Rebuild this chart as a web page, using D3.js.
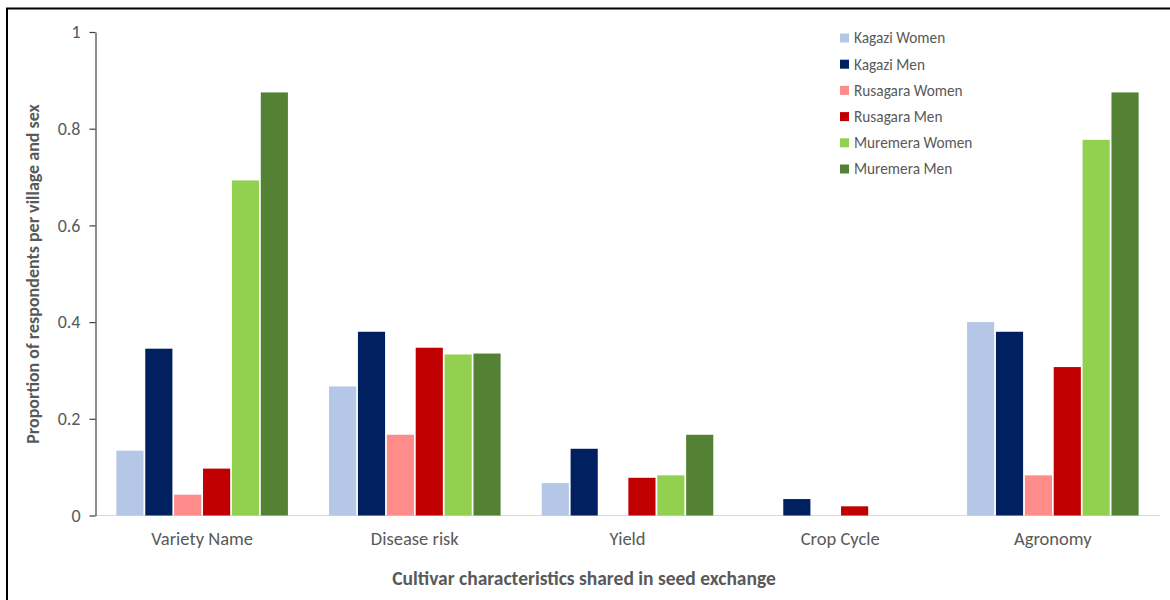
<!DOCTYPE html>
<html>
<head>
<meta charset="utf-8">
<script src="https://cdn.jsdelivr.net/npm/d3@7"></script>
<style>
  html, body { margin: 0; padding: 0; background: #fff; }
  svg { display: block; font-family: Carlito, Calibri, Lato, sans-serif; }
</style>
</head>
<body>
<svg id="chart" width="1170" height="600"></svg>
<script>
const categories = ["Variety Name", "Disease risk", "Yield", "Crop Cycle", "Agronomy"];
const seriesNames = ["Kagazi Women", "Kagazi Men", "Rusagara Women", "Rusagara Men", "Muremera Women", "Muremera Men"];
const kagaziWomen   = [0.134, 0.267, 0.067, 0,     0.400];
const kagaziMen     = [0.345, 0.380, 0.138, 0.034, 0.380];
const rusagaraWomen = [0.043, 0.167, 0,     0,     0.083];
const rusagaraMen   = [0.097, 0.347, 0.078, 0.019, 0.307];
const muremeraWomen = [0.693, 0.333, 0.083, 0,     0.777];
const muremeraMen   = [0.875, 0.335, 0.167, 0,     0.875];
const yTicks = [0, 0.2, 0.4, 0.6, 0.8, 1];
const colors = ["#B4C7E7", "#002060", "#FF8B8B", "#C00000", "#92D050", "#548235"];

const seriesValues = [kagaziWomen, kagaziMen, rusagaraWomen, rusagaraMen, muremeraWomen, muremeraMen];
const FONT = "Carlito, Calibri, Lato, sans-serif";

const svg = d3.select("#chart");

// frame (top and left edges)
svg.append("path")
  .attr("d", "M7,600 V8.5 H1170")
  .attr("fill", "none")
  .attr("stroke", "#000")
  .attr("stroke-width", 2);

const x0 = d3.scaleBand().domain(categories).range([95.5, 1159.5]).paddingInner(0.177).paddingOuter(0.09);
const x1 = d3.scaleBand().domain(seriesNames).range([0, x0.bandwidth()]).padding(0.06);
const y = d3.scaleLinear().domain([0, 1]).range([515.5, 32]);

// baseline
svg.append("line")
  .attr("x1", 95.5).attr("x2", 1160)
  .attr("y1", y(0)).attr("y2", y(0))
  .attr("stroke", "#D9D9D9").attr("stroke-width", 1.2);

// bars
const groups = svg.append("g").selectAll("g")
  .data(categories)
  .join("g")
  .attr("transform", c => `translate(${x0(c)},0)`);

groups.selectAll("rect")
  .data((c, i) => seriesNames.map((s, j) => ({ s, j, v: seriesValues[j][i] })))
  .join("rect")
  .filter(d => d.v > 0)
  .attr("x", d => x1(d.s))
  .attr("width", x1.bandwidth())
  .attr("y", d => y(d.v))
  .attr("height", d => y(0) - y(d.v))
  .attr("fill", d => colors[d.j]);

// y axis
const yAxis = d3.axisLeft(y)
  .tickValues(yTicks)
  .tickFormat(d => String(d))
  .tickSize(6)
  .tickSizeOuter(0)
  .tickPadding(9);

const yg = svg.append("g").attr("transform", "translate(95.5,0)").call(yAxis);
yg.select(".domain").attr("stroke", "#404040").attr("stroke-width", 1.2);
yg.selectAll(".tick line").attr("stroke", "#404040").attr("stroke-width", 1.2);
yg.selectAll(".tick text").attr("fill", "#595959").style("font-size", "18px").style("font-family", FONT);

// x category labels
const xAxis = d3.axisBottom(x0).tickSize(0).tickPadding(16);
const xg = svg.append("g").attr("transform", `translate(0,${y(0)})`).call(xAxis);
xg.select(".domain").remove();
xg.selectAll(".tick text").attr("fill", "#595959").style("font-size", "18.5px").style("font-family", FONT);

// axis titles
svg.append("text")
  .attr("x", 584).attr("y", 585)
  .attr("text-anchor", "middle")
  .attr("fill", "#595959")
  .style("font-size", "19.5px").style("font-weight", "bold")
  .text("Cultivar characteristics shared in seed exchange");

svg.append("text")
  .attr("transform", "translate(39,274) rotate(-90)")
  .attr("text-anchor", "middle")
  .attr("fill", "#595959")
  .style("font-size", "18px").style("font-weight", "bold")
  .text("Proportion of respondents per village and sex");

// legend
const legend = svg.append("g").selectAll("g")
  .data(seriesNames)
  .join("g")
  .attr("transform", (d, i) => `translate(840,${38 + i * 26.2})`);
legend.append("rect")
  .attr("x", 0).attr("y", -4.5)
  .attr("width", 9).attr("height", 9)
  .attr("fill", (d, i) => colors[i]);
legend.append("text")
  .attr("x", 14).attr("y", 0)
  .attr("dy", "0.35em")
  .attr("fill", "#595959")
  .style("font-size", "15.3px")
  .text(d => d);
</script>
</body>
</html>
